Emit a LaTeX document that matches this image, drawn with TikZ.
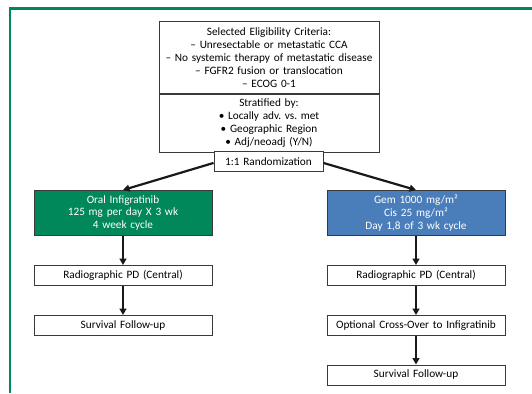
\documentclass[tikz,border=0pt]{standalone}
\usepackage{fontspec}
\setmainfont{Carlito}
\usetikzlibrary{arrows.meta}
\definecolor{frameg}{HTML}{00875E}
\definecolor{boxg}{HTML}{00875A}
\definecolor{boxb}{HTML}{4A7EBB}
\definecolor{edge}{HTML}{3A3A3A}
\frenchspacing
\tikzset{
  box/.style={draw=edge, line width=0.9pt, align=center, inner sep=0pt,
    font=\fontsize{11.3}{13}\selectfont\frenchspacing, text width=#1},
  box/.default=178bp,
  arr/.style={line width=2.2pt, draw=black!90, -{Triangle[length=6.5pt,width=7pt]}},
}
\begin{document}
\begin{tikzpicture}[x=1bp,y=-1bp]
\useasboundingbox (0,0) rectangle (532,393);
\fill[white] (0,0) rectangle (532,393);
\draw[frameg, line width=2.6pt] (10,393) -- (10,8.5) -- (532,8.5);

\node[box=220bp, minimum height=72bp, anchor=north] (crit) at (269,21)
  {Selected Eligibility Criteria:\\
   – Unresectable or metastatic CCA\\
   – No systemic therapy of metastatic disease\\
   – FGFR2 fusion or translocation\\
   – ECOG 0-1};
\node[box=220bp, minimum height=58bp, anchor=north] (strat) at (crit.south)
  {Stratified by:\\
   • Locally adv. vs. met\\
   • Geographic Region\\
   • Adj/neoadj (Y/N)};
\node[box=109bp, minimum height=20bp, anchor=north, fill=white] (rand) at (268.5,151)
  {1:1 Randomization};

\node[box, minimum height=45bp, fill=boxg, text=white, anchor=north] (g) at (123,190)
  {Oral Infigratinib\\125 mg per day X 3 wk\\4 week cycle};
\node[box, minimum height=20bp, anchor=north] (lpd) at (123,265) {Radiographic PD (Central)};
\node[box, minimum height=20bp, anchor=north] (lsf) at (123,315) {Survival Follow-up};

\node[box, minimum height=45bp, fill=boxb, text=white, anchor=north] (b) at (416,190)
  {Gem 1000 mg/m²\\Cis 25 mg/m²\\Day 1,8 of 3 wk cycle};
\node[box, minimum height=20bp, anchor=north] (rpd) at (416,265) {Radiographic PD (Central)};
\node[box, minimum height=20bp, anchor=north] (rco) at (416,315) {Optional Cross-Over to Infigratinib};
\node[box, minimum height=20bp, anchor=north] (rsf) at (416,364.5) {Survival Follow-up};

\draw[arr] ([yshift=-1.5bp]rand.west) -- (g.north);
\draw[arr] ([yshift=-1.5bp]rand.east) -- (b.north);
\draw[arr] (g) -- (lpd);
\draw[arr] (lpd) -- (lsf);
\draw[arr] (b) -- (rpd);
\draw[arr] (rpd) -- (rco);
\draw[arr] (rco) -- (rsf);
\end{tikzpicture}
\end{document}
